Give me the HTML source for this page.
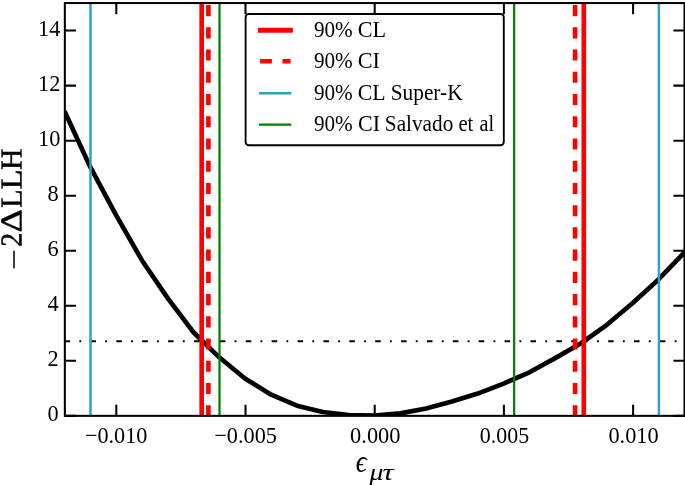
<!DOCTYPE html>
<html><head><meta charset="utf-8"><title>chart</title>
<style>
html,body{margin:0;padding:0;background:#fff;}
body{width:685px;height:485px;overflow:hidden;}
svg{display:block;will-change:transform;}
text{font-family:"Liberation Serif",serif;fill:#000;}
</style></head><body>
<svg width="685" height="485" viewBox="0 0 685 485">
<rect x="0" y="0" width="685" height="485" fill="#fff"/>
<defs><clipPath id="ax"><rect x="64.85" y="3.05" width="619.65" height="412.8"/></clipPath></defs>
<g clip-path="url(#ax)">
<polyline points="64.55,111.34 90.38,167.18 116.20,215.33 142.03,260.44 167.85,298.41 193.67,332.52 219.50,357.55 245.32,378.74 271.15,394.69 296.98,405.70 322.80,412.02 348.62,415.05 374.45,415.60 400.27,413.40 426.10,408.45 451.92,401.57 477.75,393.59 503.57,383.55 529.40,372.27 555.23,358.10 581.05,343.25 606.88,324.82 632.70,303.08 658.52,279.43 684.35,252.47" fill="none" stroke="#000" stroke-width="4.64" stroke-linejoin="round"/>
<line x1="64.55" x2="689.5" y1="341.25" y2="341.25" stroke="#000" stroke-width="1.8" stroke-dasharray="5.55 9.24 1.85 9.245"/>
<line x1="201.68" x2="201.68" y1="420.85" y2="-1.9500000000000002" stroke="#ff0000" stroke-width="4.64"/>
<line x1="583.80" x2="583.80" y1="420.85" y2="-1.9500000000000002" stroke="#ff0000" stroke-width="4.64"/>
<line x1="208.40" x2="208.40" y1="416.3" y2="-1.9500000000000002" stroke="#ff0000" stroke-width="4.64" stroke-dasharray="11.1 11.13"/>
<line x1="575.10" x2="575.10" y1="416.3" y2="-1.9500000000000002" stroke="#ff0000" stroke-width="4.64" stroke-dasharray="11.1 11.13"/>
<line x1="90.50" x2="90.50" y1="420.85" y2="-1.9500000000000002" stroke="#2ba3c8" stroke-width="2.5"/>
<line x1="658.90" x2="658.90" y1="420.85" y2="-1.9500000000000002" stroke="#2ba3c8" stroke-width="2.4"/>
<line x1="219.50" x2="219.50" y1="420.85" y2="-1.9500000000000002" stroke="#008000" stroke-width="2.23"/>
<line x1="514.15" x2="514.15" y1="420.85" y2="-1.9500000000000002" stroke="#008000" stroke-width="2.23"/>
</g>
<path d="M116.30 415.85 V404.75 M116.30 3.05 V14.15 M245.50 415.85 V404.75 M245.50 3.05 V14.15 M374.70 415.85 V404.75 M374.70 3.05 V14.15 M503.90 415.85 V404.75 M503.90 3.05 V14.15 M633.10 415.85 V404.75 M633.10 3.05 V14.15 M64.85 415.85 H75.95 M684.5 415.85 H673.40 M64.85 360.81 H75.95 M684.5 360.81 H673.40 M64.85 305.77 H75.95 M684.5 305.77 H673.40 M64.85 250.73 H75.95 M684.5 250.73 H673.40 M64.85 195.69 H75.95 M684.5 195.69 H673.40 M64.85 140.65 H75.95 M684.5 140.65 H673.40 M64.85 85.61 H75.95 M684.5 85.61 H673.40 M64.85 30.57 H75.95 M684.5 30.57 H673.40" stroke="#000" stroke-width="2.05" fill="none"/>
<rect x="64.85" y="3.05" width="619.65" height="412.8" fill="none" stroke="#000" stroke-width="2.05"/>
<text transform="translate(84.88 442.65) scale(0.9959 1.04)" font-size="22.3">−0.010</text>
<text transform="translate(214.28 442.65) scale(0.9992 1.04)" font-size="22.3">−0.005</text>
<text transform="translate(350.12 442.65) scale(1.0041 1.04)" font-size="22.3">0.000</text>
<text transform="translate(479.84 442.65) scale(0.9840 1.04)" font-size="22.3">0.005</text>
<text transform="translate(608.42 442.65) scale(1.0000 1.04)" font-size="22.3">0.010</text>
<text transform="translate(58.6 421.35) scale(1 1.04)" font-size="22.3" text-anchor="end">0</text>
<text transform="translate(58.6 366.31) scale(1 1.04)" font-size="22.3" text-anchor="end">2</text>
<text transform="translate(58.6 311.27) scale(1 1.04)" font-size="22.3" text-anchor="end">4</text>
<text transform="translate(58.6 256.23) scale(1 1.04)" font-size="22.3" text-anchor="end">6</text>
<text transform="translate(58.6 201.19) scale(1 1.04)" font-size="22.3" text-anchor="end">8</text>
<text transform="translate(60.3 146.15) scale(1 1.04)" font-size="22.3" text-anchor="end">10</text>
<text transform="translate(60.3 91.11) scale(1 1.04)" font-size="22.3" text-anchor="end">12</text>
<text transform="translate(60.3 36.07) scale(1 1.04)" font-size="22.3" text-anchor="end">14</text>
<g transform="translate(21.5 268.5) rotate(-89.95)">
<rect x="0.2" y="-8.25" width="17.6" height="1.5" fill="#000"/>
<text transform="translate(21.63 0.00) scale(0.9237 1)" font-size="30.4" stroke="#000" stroke-width="0.45">2</text>
<text transform="translate(35.95 0.00) scale(1.1971 1)" font-size="30.4" stroke="#000" stroke-width="0.45">Δ</text>
<text transform="translate(60.62 0.00) scale(1.0079 1)" font-size="30.4" stroke="#000" stroke-width="0.45">L</text>
<text transform="translate(78.96 0.00) scale(1.0772 1)" font-size="30.4" stroke="#000" stroke-width="0.45">L</text>
<text transform="translate(98.55 0.00) scale(0.9764 1)" font-size="30.4" stroke="#000" stroke-width="0.45">H</text>
</g>
<text transform="translate(355.74 471.50) scale(0.8588 1)" font-size="31.8" font-style="italic">ϵ</text>
<text transform="translate(369.50 479.90) scale(1.2530 1)" font-size="22.1" font-style="italic">μ</text>
<text transform="translate(382.61 479.90) scale(1.3875 1)" font-size="22.1" font-style="italic">τ</text>
<rect x="245.6" y="14.0" width="258.20" height="131.20" rx="3.3" ry="3.3" fill="#fff" stroke="#000" stroke-width="1.86"/>
<line x1="258" x2="292.9" y1="30.2" y2="30.2" stroke="#ff0000" stroke-width="4.9"/>
<path d="M260.1 61.25 H271.9 M282.5 61.25 H290.6" stroke="#ff0000" stroke-width="4.7"/>
<line x1="259" x2="291.4" y1="93.15" y2="93.15" stroke="#2ba3c8" stroke-width="2.45"/>
<line x1="259" x2="291.3" y1="124.7" y2="124.7" stroke="#008000" stroke-width="2.25"/>
<text transform="translate(313.89 37.30) scale(0.9498 1.03)" font-size="22.3">90%</text>
<text transform="translate(357.73 37.30) scale(0.9943 1.03)" font-size="22.3">CL</text>
<text transform="translate(313.89 67.60) scale(0.9498 1.03)" font-size="22.3">90%</text>
<text transform="translate(357.73 67.60) scale(0.9988 1.03)" font-size="22.3">CI</text>
<text transform="translate(313.89 99.90) scale(0.9498 1.03)" font-size="22.3">90%</text>
<text transform="translate(357.74 99.90) scale(0.9790 1.03)" font-size="22.3">CL</text>
<text transform="translate(390.66 99.90) scale(0.9581 1.03)" font-size="22.3">Super-K</text>
<text transform="translate(313.89 130.60) scale(0.9498 1.03)" font-size="22.3">90%</text>
<text transform="translate(358.03 130.60) scale(0.9891 1.03)" font-size="22.3">CI</text>
<text transform="translate(384.87 130.60) scale(0.9525 1.03)" font-size="22.3">Salvado</text>
<text transform="translate(458.39 130.60) scale(0.9256 1.03)" font-size="22.3">et</text>
<text transform="translate(479.52 130.60) scale(0.9076 1.03)" font-size="22.3">al</text>
</svg>
</body></html>
